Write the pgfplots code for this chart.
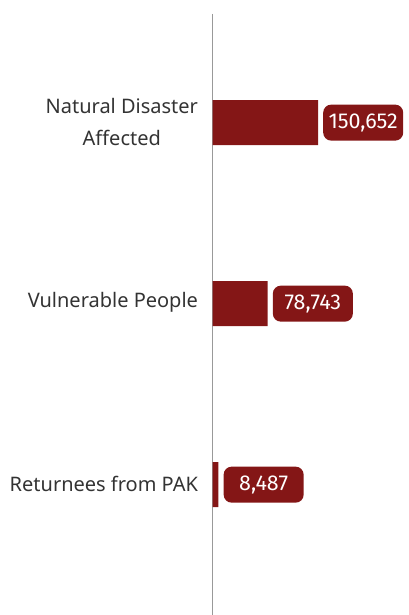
\documentclass[border=0pt]{standalone}
\usepackage{fontspec}
\setmainfont{Noto Sans}
\newfontfamily\numfont{Fira Sans}
\usepackage{pgfplots}
\pgfplotsset{compat=1.18}
\definecolor{barred}{HTML}{841616}
\definecolor{labgray}{HTML}{333333}
\begin{document}
\begin{tikzpicture}
\useasboundingbox (0,0) rectangle (409bp,615bp);
\begin{axis}[
  at={(212.5bp,0bp)}, anchor=south west,
  scale only axis, width=196.5bp, height=601bp,
  xbar, bar width=45bp,
  xmin=0, xmax=280600,
  ymin=-0.6, ymax=2.72, y dir=reverse,
  axis x line=none,
  axis y line=left,
  y axis line style={-, color=black!40, line width=1.3bp},
  ytick={0,1,2},
  yticklabels={{Natural Disaster\\Affected},{Vulnerable People},{Returnees from PAK}},
  yticklabel style={align=center, text=labgray, font=\fontsize{20bp}{32bp}\selectfont, xshift=-11bp, yshift=1bp},
  major tick length=0pt,
  clip=false,
  point meta=x,
  nodes near coords={\pgfmathprintnumber[fixed, precision=0, 1000 sep={,}, assume math mode=true]{\pgfplotspointmeta}},
  nodes near coords style={anchor=west, xshift=5bp, fill=barred, text=white,
    rounded corners=8bp, minimum width=80bp, minimum height=36bp, inner xsep=4bp,
    font=\numfont\fontsize{21.5bp}{24bp}\selectfont},
]
\addplot[fill=barred, draw=none] coordinates {(150652,0) (78743,1) (8487,2)};
\end{axis}
\end{tikzpicture}
\end{document}
